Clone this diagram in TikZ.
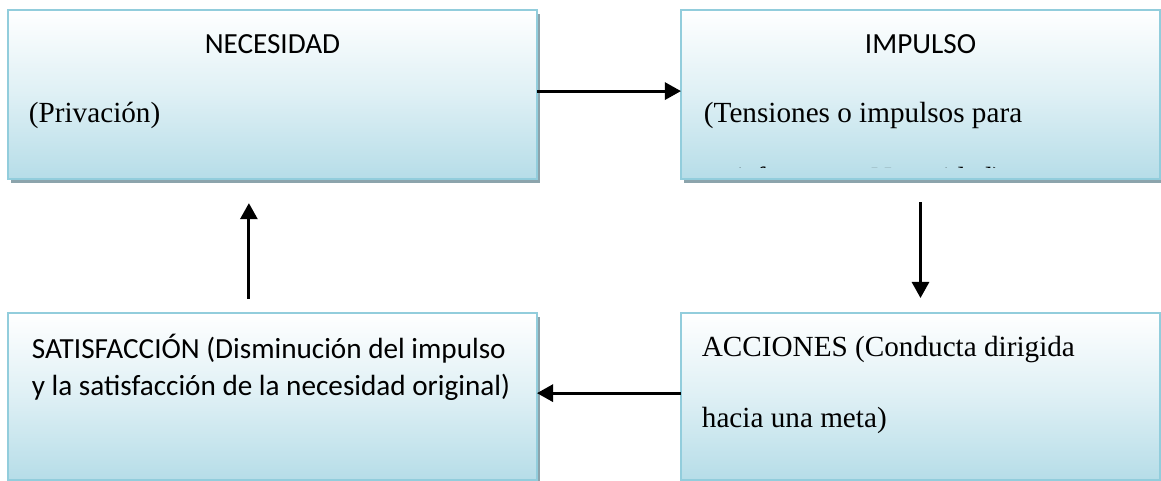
\documentclass[tikz,border=0pt]{standalone}
\usepackage{fontspec}
\setmainfont{Liberation Serif}
\newfontfamily\calibri{Carlito}
\usetikzlibrary{positioning}
\usetikzlibrary{arrows.meta,shadows}
\definecolor{cajaborde}{RGB}{146,205,220}
\definecolor{cajafondo}{RGB}{182,221,232}
\definecolor{cajasombra}{RGB}{140,164,172}

\begin{document}
\begin{tikzpicture}[node distance=55.1pt and 59.2pt,every node/.style={inner sep=0,outer sep=0},
    caja/.style={draw=cajaborde,line width=1.1pt,top color=white,bottom color=cajafondo,middle color=cajafondo!45,
        minimum height=69.5pt,drop shadow={shadow xshift=1.3pt,shadow yshift=-1.6pt,fill=cajasombra,opacity=1}},
    sans/.style={font=\calibri\fontsize{12}{14}\selectfont},
    serif/.style={font=\fontsize{12}{14}\selectfont,anchor=base west},
    flecha/.style={draw,line width=1.2pt,-{Triangle[length=6.6pt,width=7pt]}}]
    \useasboundingbox (0,0) rectangle (477.2pt,-197.7pt);
    \node[caja,minimum width=217.4pt] (nec) at (112.0pt,-38.84pt) {};
    \node[caja,minimum width=196.9pt,right=of nec] (imp) {};
    \node[caja,minimum width=217.4pt,minimum height=68.6pt,below=of nec] (sat) {};
    \node[caja,minimum width=196.9pt,minimum height=68.6pt,below=of imp] (acc) {};
    % textos
    \node[sans,anchor=base] (necT) at ([yshift=-17.7pt]nec.north) {NECESIDAD};
    \node[serif] (necD) at ([shift={(8.6pt,-46.4pt)}]nec.north west) {(Privación)};
    \node[sans,anchor=base] (impT) at ([yshift=-18.1pt]imp.north) {IMPULSO};
    \node[serif] (impD) at ([shift={(9.45pt,-46.4pt)}]imp.north west) {(Tensiones o impulsos para};
    \begin{scope}
        \clip (imp.north west) rectangle ([yshift=4.6pt]imp.south east);
        \node[serif] (impE) at ([shift={(9.45pt,-73pt)}]imp.north west) {satisfacer una Necesidad)};
    \end{scope}
    \node[sans,anchor=base west] (satA) at ([shift={(9.8pt,-18.5pt)}]sat.north west) {SATISFACCIÓN (Disminución del impulso};
    \node[sans,anchor=base west] (satB) at ([shift={(9.8pt,-33.7pt)}]sat.north west) {y la satisfacción de la necesidad original)};
    \node[serif] (accA) at ([shift={(8.6pt,-17.7pt)}]acc.north west) {ACCIONES (Conducta dirigida};
    \node[serif] (accB) at ([shift={(8.6pt,-46.9pt)}]acc.north west) {hacia una meta)};
    \path
        ([yshift=1.4pt]nec.east) edge[flecha] ([yshift=1.4pt]imp.west)
        (imp.south) edge[flecha,shorten <=9.5pt,shorten >=6.2pt] (acc.north)
        ([yshift=1.4pt]acc.west) edge[flecha] ([yshift=1.4pt]sat.east)
        ([xshift=-9.7pt]sat.north) edge[flecha,shorten <=5.8pt,shorten >=9.9pt] ([xshift=-9.7pt]nec.south);
\end{tikzpicture}
\end{document}
